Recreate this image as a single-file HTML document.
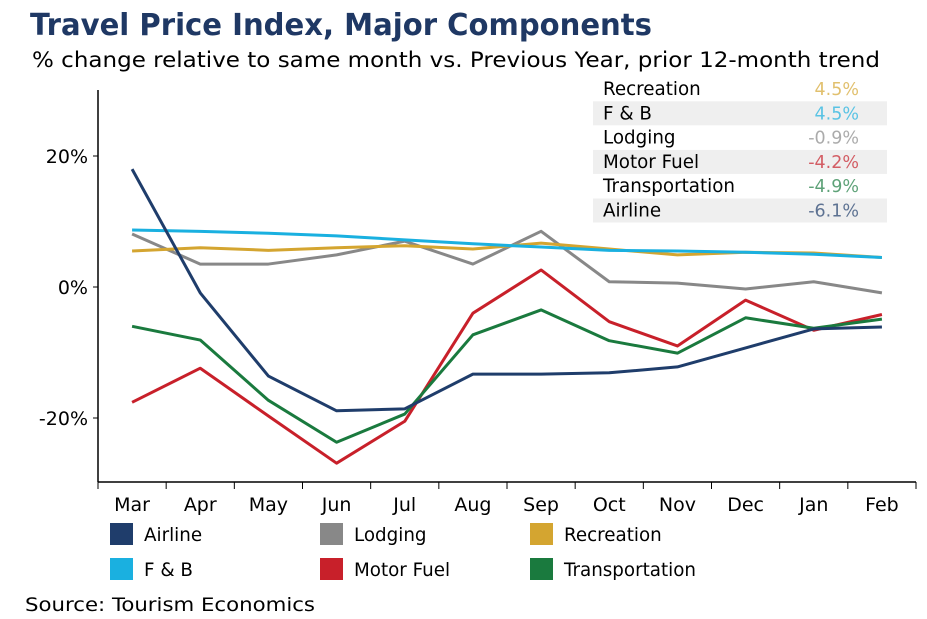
<!DOCTYPE html>
<html><head><meta charset="utf-8"><style>
body{margin:0;background:#fff;width:927px;height:619px;overflow:hidden;font-family:"DejaVu Sans","Liberation Sans",sans-serif;}
svg{position:absolute;left:0;top:0}
</style></head><body>
<svg id="c" width="927" height="619">
<text x="30" y="35" font-size="30" font-weight="bold" fill="#1f3864" textLength="622" lengthAdjust="spacingAndGlyphs">Travel Price Index, Major Components</text>
<text x="32" y="67" font-size="21" fill="#000" textLength="848" lengthAdjust="spacingAndGlyphs">% change relative to same month vs. Previous Year, prior 12-month trend</text>
<text x="25" y="611" font-size="19" fill="#000" textLength="290" lengthAdjust="spacingAndGlyphs">Source: Tourism Economics</text>
</svg>
<script>
const months=["Mar","Apr","May","Jun","Jul","Aug","Sep","Oct","Nov","Dec","Jan","Feb"];
const yTicks=[-20,0,20];
const airline=[18,-0.9,-13.6,-18.9,-18.6,-13.3,-13.3,-13.1,-12.2,-9.3,-6.4,-6.1];
const lodging=[8.1,3.5,3.5,4.9,7.0,3.5,8.5,0.8,0.6,-0.3,0.8,-0.9];
const recreation=[5.5,6.0,5.6,6.0,6.3,5.8,6.7,5.8,4.9,5.3,5.2,4.5];
const fb=[8.7,8.5,8.2,7.8,7.2,6.6,6.1,5.6,5.5,5.3,5.0,4.5];
const motorFuel=[-17.6,-12.4,-19.7,-26.9,-20.5,-4.0,2.6,-5.3,-9.0,-2.0,-6.6,-4.2];
const transportation=[-6.0,-8.1,-17.3,-23.7,-19.4,-7.3,-3.5,-8.2,-10.1,-4.7,-6.3,-4.9];
const latest=["4.5%","4.5%","-0.9%","-4.2%","-4.9%","-6.1%"];

const svg=document.getElementById('c');const NS="http://www.w3.org/2000/svg";
function mk(t,a,p){const e=document.createElementNS(NS,t);for(const k in a)e.setAttribute(k,a[k]);(p||svg).appendChild(e);return e;}
const x0=98,x1=916,yTop=90,yBot=482;
const step=(x1-x0)/months.length;
const X=i=>x0+step*(i+0.5);
const Y=v=>287-v*6.55;
let ax=mk('line',{x1:x0,y1:yTop,x2:x0,y2:yBot,stroke:'#000','stroke-width':1.5});

let bx=mk('line',{x1:x0,y1:yBot,x2:x1,y2:yBot,stroke:'#000','stroke-width':1.5});

yTicks.forEach(v=>{
  const t=mk('text',{x:88,y:Y(v)+7,'font-size':19,'text-anchor':'end'});t.textContent=v+'%';
  
  mk('line',{x1:x0-5,y1:Y(v),x2:x0,y2:Y(v),stroke:'#000'});
});
months.forEach((m,i)=>{
  mk('line',{x1:x0+step*i,y1:yBot,x2:x0+step*i,y2:yBot+7,stroke:'#000'});
  const t=mk('text',{x:X(i),y:511,'font-size':19,'text-anchor':'middle'});t.textContent=m;
  
});
mk('line',{x1:x1,y1:yBot,x2:x1,y2:yBot+7,stroke:'#000'});
const series=[
 ["Recreation",recreation,"#d4a530","recreation"],
 ["F & B",fb,"#1ab0e0","fb"],
 ["Lodging",lodging,"#888888","lodging"],
 ["Motor Fuel",motorFuel,"#c8202a","motor-fuel"],
 ["Transportation",transportation,"#1a7a3e","transportation"],
 ["Airline",airline,"#1f3d6b","airline"]];
const drawOrder=[2,0,1,3,4,5];
drawOrder.forEach(k=>{const s=series[k];
  const p=mk('polyline',{points:s[1].map((v,i)=>X(i)+','+Y(v)).join(' '),fill:'none',stroke:s[2],'stroke-width':3,'stroke-linejoin':'round'});
  
});
series.forEach((s,i)=>{
  const y=77+i*24.3;
  if(i%2==1)mk('rect',{x:593,y:y,width:294,height:24,fill:'#efefef'});
  const a=mk('text',{x:603,y:y+18,'font-size':18.3});a.textContent=s[0];
  
  const b=mk('text',{x:859,y:y+18,'font-size':17.5,'text-anchor':'end',fill:s[2],'fill-opacity':0.7});b.textContent=latest[i];
  
});
const leg=[[5,110,534],[2,320,534],[0,530,534],[1,110,569],[3,320,569],[4,530,569]];
leg.forEach(l=>{const s=series[l[0]];
  const g=mk('g',{});
  mk('rect',{x:l[1],y:l[2]-11,width:23,height:22,fill:s[2]},g);
  const t=mk('text',{x:l[1]+34,y:l[2]+7,'font-size':18.3},g);t.textContent=s[0];
});
</script>
</body></html>
